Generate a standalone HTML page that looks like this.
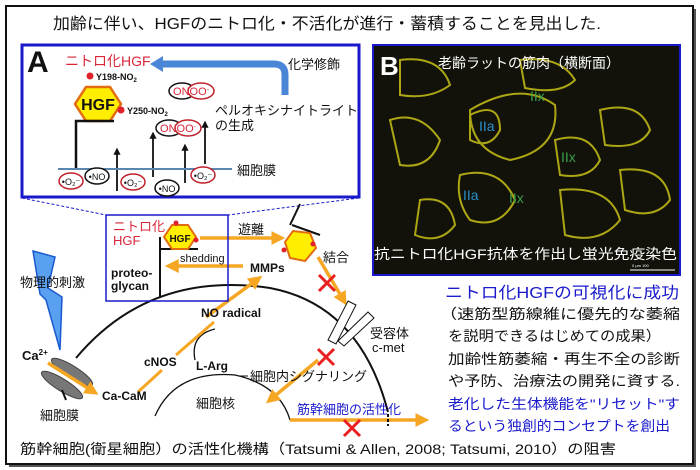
<!DOCTYPE html>
<html><head><meta charset="utf-8"><style>
body{margin:0;background:#fff;}
svg{display:block;font-family:"Liberation Sans","Noto Sans CJK JP",sans-serif;}
</style></head><body>
<svg width="700" height="470" viewBox="0 0 700 470" xmlns="http://www.w3.org/2000/svg">
<defs>
<marker id="oa" markerWidth="4" markerHeight="4" refX="2.5" refY="2" orient="auto" markerUnits="strokeWidth"><path d="M0,0 L4,2 L0,4 Z" fill="#f5a623"/></marker>
<marker id="ba" markerWidth="4" markerHeight="4" refX="1" refY="2" orient="auto" markerUnits="strokeWidth"><path d="M0,0 L4,2 L0,4 Z" fill="#111"/></marker>
</defs>
<rect x="0" y="0" width="700" height="470" fill="#fff"/>
<rect x="9" y="9" width="687" height="458" fill="#555"/>
<rect x="6" y="6" width="687" height="458" fill="#fff" stroke="#111" stroke-width="2"/>
<text x="327" y="29" font-size="16" text-anchor="middle" textLength="548" lengthAdjust="spacingAndGlyphs" fill="#111">加齢に伴い、HGFのニトロ化・不活化が進行・蓄積することを見出した.</text>

<!-- Panel A -->
<rect x="22" y="45" width="337" height="152" fill="#fff" stroke="#1a1acc" stroke-width="3"/>
<text x="27" y="72" font-size="30" font-weight="bold" fill="#111">A</text>
<text x="65" y="66" font-size="14" fill="#d9263a">ニトロ化HGF</text>
<path d="M285,95 L285,75 Q285,64 274,64 L160,64" fill="none" stroke="#4a86d8" stroke-width="7"/>
<path d="M150,64 L163,56 L163,72 Z" fill="#4a86d8"/>
<text x="288" y="69" font-size="13" fill="#111">化学修飾</text>
<circle cx="90" cy="76" r="3.5" fill="#e0202a"/>
<text x="96" y="80" font-size="9" font-weight="bold" fill="#111">Y198-NO<tspan font-size="6" dy="2">2</tspan></text>
<polygon points="86,87 110,87 121,104 110,121 86,121 75,104" fill="#ffee00" stroke="#e36c10" stroke-width="2.5"/>
<text x="98" y="110" font-size="16" font-weight="bold" text-anchor="middle" fill="#111">HGF</text>
<circle cx="121" cy="110" r="3.5" fill="#e0202a"/>
<text x="127" y="114" font-size="9" font-weight="bold" fill="#111">Y250-NO<tspan font-size="6" dy="2">2</tspan></text>
<path d="M76,168 L76,121 L114,121" fill="none" stroke="#111" stroke-width="2.5"/>
<ellipse cx="182" cy="91" rx="13" ry="8" fill="#fff" stroke="#111" stroke-width="1.5"/>
<ellipse cx="201" cy="91" rx="13" ry="8" fill="#fff" stroke="#c0202a" stroke-width="1.5"/>
<text x="191" y="95" font-size="11" fill="#d9263a" text-anchor="middle">ONOO<tspan font-size="7" dy="-3">-</tspan></text>
<ellipse cx="169" cy="128" rx="13" ry="8" fill="#fff" stroke="#111" stroke-width="1.5"/>
<ellipse cx="188" cy="128" rx="13" ry="8" fill="#fff" stroke="#c0202a" stroke-width="1.5"/>
<text x="178" y="132" font-size="11" fill="#d9263a" text-anchor="middle">ONOO<tspan font-size="7" dy="-3">-</tspan></text>
<text x="215" y="115" font-size="13" fill="#111">ペルオキシナイトライト</text>
<text x="215" y="130" font-size="13" fill="#111">の生成</text>
<g stroke="#111" stroke-width="1.8" marker-end="url(#ba)">
<line x1="117" y1="191" x2="117" y2="153"/>
<line x1="153" y1="177" x2="153" y2="137"/>
<line x1="185" y1="183" x2="185" y2="149"/>
<line x1="205" y1="164" x2="205" y2="126"/>
</g>
<line x1="58" y1="169" x2="232" y2="169" stroke="#5a86b0" stroke-width="2"/>
<text x="237" y="175" font-size="13" fill="#111">細胞膜</text>
<g font-size="9" text-anchor="middle">
<ellipse cx="71" cy="181" rx="12" ry="8" fill="#fff" stroke="#c0202a" stroke-width="1.5"/><text x="71" y="185" fill="#111">•O₂⁻</text>
<ellipse cx="97" cy="176" rx="12" ry="8" fill="#fff" stroke="#111" stroke-width="1.5"/><text x="97" y="180" fill="#111">•NO</text>
<ellipse cx="133" cy="182" rx="12" ry="8" fill="#fff" stroke="#c0202a" stroke-width="1.5"/><text x="133" y="186" fill="#111">•O₂⁻</text>
<ellipse cx="167" cy="188" rx="12" ry="8" fill="#fff" stroke="#111" stroke-width="1.5"/><text x="167" y="192" fill="#111">•NO</text>
<ellipse cx="203" cy="175" rx="12" ry="8" fill="#fff" stroke="#c0202a" stroke-width="1.5"/><text x="203" y="179" fill="#111">•O₂⁻</text>
</g>
<line x1="22" y1="198" x2="106" y2="215" stroke="#1a1acc" stroke-dasharray="3,2"/>
<line x1="359" y1="198" x2="228" y2="215" stroke="#1a1acc" stroke-dasharray="3,2"/>

<!-- Panel B -->
<rect x="373" y="45" width="307" height="230" fill="#12120a" stroke="#1a1acc" stroke-width="2"/>
<g fill="none" stroke="#c8c018" stroke-width="2" opacity="0.85">
<path d="M470,110 Q520,80 555,105 Q560,150 510,160 Q470,150 470,110Z"/>
<path d="M470,115 Q500,100 500,130 Q490,150 470,140Z"/>
<path d="M555,140 Q590,130 600,160 Q590,180 560,175Z"/>
<path d="M460,175 Q500,165 515,200 Q500,230 470,220 Q455,200 460,175Z"/>
<path d="M600,110 Q640,100 650,130 Q640,150 605,145Z"/>
<path d="M390,120 Q420,110 440,140 Q430,170 400,165Z"/>
<path d="M560,190 Q610,185 620,220 Q600,245 565,235Z"/>
<path d="M420,200 Q450,195 455,225 Q440,245 415,235Z"/>
<path d="M620,170 Q665,165 670,200 Q655,220 625,210Z"/>
<path d="M520,60 Q560,55 575,80 Q560,95 525,88Z"/>
<path d="M400,60 Q440,55 450,85 Q430,100 400,95Z"/>
</g>
<text x="380" y="75" font-size="26" font-weight="bold" fill="#fff">B</text>
<text x="438" y="68" font-size="14" fill="#fff">老齢ラットの筋肉（横断面）</text>
<text x="530" y="101" font-size="14" fill="#3aa04a">IIx</text>
<text x="479" y="131" font-size="14" fill="#2a90c8">IIa</text>
<text x="561" y="162" font-size="14" fill="#3aa04a">IIx</text>
<text x="463" y="200" font-size="14" fill="#2a90c8">IIa</text>
<text x="509" y="203" font-size="14" fill="#3aa04a">IIx</text>
<text x="374" y="259" font-size="14" fill="#fff" textLength="303" lengthAdjust="spacingAndGlyphs">抗ニトロ化HGF抗体を作出し蛍光免疫染色</text>
<line x1="630" y1="270" x2="675" y2="270" stroke="#fff" stroke-width="1"/>
<text x="632" y="267" font-size="4" fill="#fff">0       μm      100</text>

<!-- right text -->
<text x="445" y="298" font-size="16" fill="#1a1acc" textLength="234" lengthAdjust="spacingAndGlyphs">ニトロ化HGFの可視化に成功</text>
<g font-size="14" fill="#111">
<text x="440" y="319" textLength="240" lengthAdjust="spacingAndGlyphs">（速筋型筋線維に優先的な萎縮</text>
<text x="448" y="341" textLength="213" lengthAdjust="spacingAndGlyphs">を説明できるはじめての成果）</text>
<text x="448" y="364" textLength="232" lengthAdjust="spacingAndGlyphs">加齢性筋萎縮・再生不全の診断</text>
<text x="448" y="386" textLength="232" lengthAdjust="spacingAndGlyphs">や予防、治療法の開発に資する.</text>
</g>
<g font-size="14" fill="#1a1acc">
<text x="448" y="409" textLength="232" lengthAdjust="spacingAndGlyphs">老化した生体機能を"リセット"す</text>
<text x="448" y="431" textLength="222" lengthAdjust="spacingAndGlyphs">るという独創的コンセプトを創出</text>
</g>
<text x="20" y="454" font-size="14" fill="#111" textLength="596" lengthAdjust="spacingAndGlyphs">筋幹細胞(衛星細胞）の活性化機構（Tatsumi &amp; Allen, 2008; Tatsumi, 2010）の阻害</text>

<!-- lower diagram -->
<path d="M76,358 Q150,270 270,288 Q360,305 388,412" fill="none" stroke="#111" stroke-width="2"/>
<path d="M155,416 Q175,370 235,375 Q280,385 290,420" fill="none" stroke="#111" stroke-width="1.3"/>
<line x1="238" y1="376" x2="248" y2="376" stroke="#111" stroke-width="1"/>
<path d="M215,329 Q190,335 195,360" fill="none" stroke="#111" stroke-width="1.3"/>
<polygon points="33,251 55,257 48,288 62,297 60,350 46,300 40,294" fill="#5aa0f0" stroke="#1a5ad0" stroke-width="1.5"/>
<text x="20" y="287" font-size="13" fill="#111">物理的刺激</text>
<text x="22" y="360" font-size="13" font-weight="bold" fill="#111">Ca<tspan font-size="8" dy="-5">2+</tspan></text>
<ellipse cx="72" cy="372" rx="24" ry="6" transform="rotate(32 72 372)" fill="#777" stroke="#444"/>
<ellipse cx="62" cy="385" rx="24" ry="6" transform="rotate(32 62 385)" fill="#777" stroke="#444"/>
<line x1="62" y1="390" x2="66" y2="400" stroke="#111" stroke-width="2"/>
<text x="40" y="420" font-size="13" fill="#111">細胞膜</text>
<g stroke="#f5a623" stroke-width="3.5" fill="none" marker-end="url(#oa)">
<line x1="48" y1="363" x2="94" y2="392"/>
<line x1="206" y1="317" x2="258" y2="279"/>
<line x1="243" y1="266" x2="170" y2="266"/>
<line x1="200" y1="238" x2="280" y2="238"/>
<line x1="318" y1="257" x2="344" y2="301"/>
<line x1="318" y1="360" x2="270" y2="400"/>
<line x1="290" y1="420" x2="424" y2="420"/>
</g>
<line x1="138" y1="392" x2="162" y2="370" stroke="#f5a623" stroke-width="3"/>
<line x1="176" y1="355" x2="214" y2="322" stroke="#f5a623" stroke-width="3"/>
<text x="102" y="400" font-size="12" font-weight="bold" fill="#111">Ca-CaM</text>
<text x="144" y="366" font-size="12" font-weight="bold" fill="#111">cNOS</text>
<text x="196" y="370" font-size="12" font-weight="bold" fill="#111">L-Arg</text>
<text x="201" y="317" font-size="12" font-weight="bold" fill="#111">NO radical</text>
<text x="250" y="272" font-size="12" font-weight="bold" fill="#111">MMPs</text>
<text x="250" y="381" font-size="13" fill="#111">細胞内シグナリング</text>
<text x="196" y="408" font-size="13" fill="#111">細胞核</text>
<text x="297" y="414" font-size="13" fill="#1a1acc">筋幹細胞の活性化</text>
<line x1="388" y1="414" x2="388" y2="426" stroke="#111" stroke-width="2" stroke-dasharray="3,2"/>
<!-- small box -->
<rect x="106" y="215" width="122" height="86" fill="none" stroke="#1a1acc" stroke-width="1.5"/>
<text x="113" y="231" font-size="13" fill="#d9263a">ニトロ化</text>
<text x="113" y="245" font-size="13" fill="#d9263a">HGF</text>
<line x1="160" y1="237" x2="160" y2="297" stroke="#111" stroke-width="2"/>
<line x1="160" y1="249" x2="198" y2="249" stroke="#111" stroke-width="2"/>
<polygon points="172,225 188,225 196,237 188,249 172,249 164,237" fill="#ffee00" stroke="#e36c10" stroke-width="2"/>
<circle cx="176" cy="223" r="2.5" fill="#e0202a"/><circle cx="196" cy="240" r="2.5" fill="#e0202a"/>
<text x="180" y="242" font-size="10" font-weight="bold" text-anchor="middle" fill="#111">HGF</text>
<text x="180" y="262" font-size="11" fill="#111">shedding</text>
<text x="111" y="277" font-size="12" font-weight="bold" fill="#111">proteo-</text>
<text x="111" y="290" font-size="12" font-weight="bold" fill="#111">glycan</text>
<text x="238" y="234" font-size="13" fill="#111">遊離</text>
<text x="323" y="262" font-size="13" fill="#111">結合</text>
<line x1="300" y1="204" x2="290" y2="225" stroke="#111" stroke-width="2"/>
<line x1="292" y1="225" x2="320" y2="235" stroke="#111" stroke-width="2"/>
<polygon points="293,231 310,233 316,248 305,261 290,258 285,242" fill="#ffee00" stroke="#e36c10" stroke-width="2"/>
<circle cx="284" cy="250" r="2.5" fill="#e0202a"/><circle cx="313" cy="244" r="2.5" fill="#e0202a"/>
<!-- receptor -->
<polygon points="348,301 356,305 336,344 328,340" fill="#fff" stroke="#111" stroke-width="1"/>
<polygon points="368,312 374,318 344,346 338,341" fill="#fff" stroke="#111" stroke-width="1"/>
<text x="370" y="338" font-size="13" fill="#111">受容体</text>
<text x="372" y="352" font-size="13" fill="#111">c-met</text>
<!-- red X -->
<g stroke="#e82020" stroke-width="3">
<path d="M319,275 L335,291 M335,275 L319,291"/>
<path d="M318,349 L334,365 M334,349 L318,365"/>
<path d="M344,420 L360,436 M360,420 L344,436"/>
</g>
</svg>
</body></html>
